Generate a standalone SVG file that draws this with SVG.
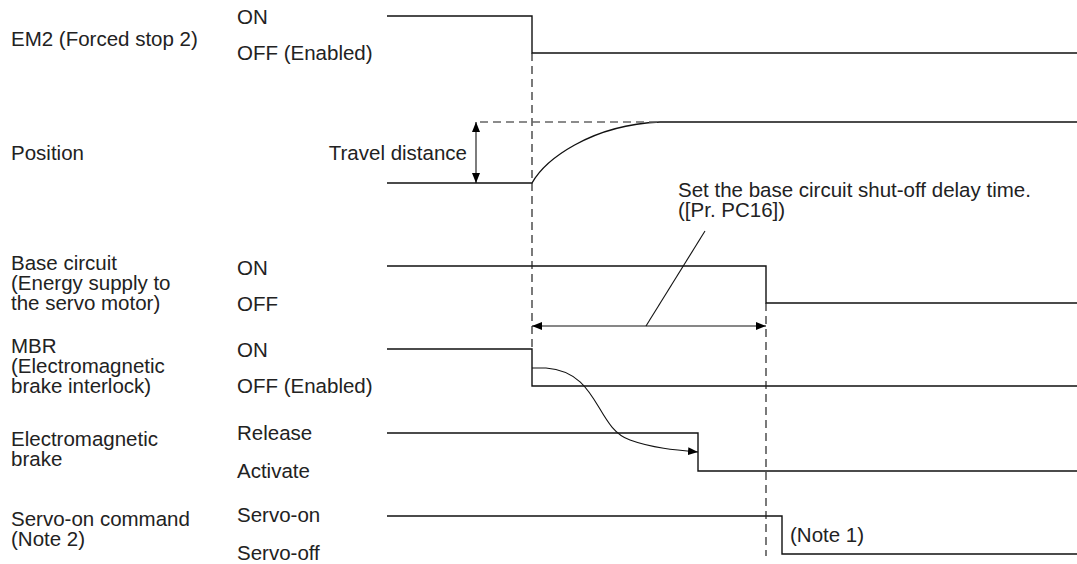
<svg xmlns="http://www.w3.org/2000/svg" width="1077" height="564" viewBox="0 0 1077 564">
<style>
text{font-family:"Liberation Sans",Arial,sans-serif;font-size:20.5px;fill:#222}
.s{fill:none;stroke:#111;stroke-width:1.4}
.d{fill:none;stroke:#222;stroke-width:1.2;stroke-dasharray:8,5}
.dg{fill:none;stroke:#666;stroke-width:1.4;stroke-dasharray:8,5}
.t{fill:none;stroke:#111;stroke-width:1.1}
</style>
<defs>
<marker id="ah" viewBox="0 0 10 8" refX="10" refY="4" markerWidth="10" markerHeight="8" markerUnits="userSpaceOnUse" orient="auto-start-reverse"><path d="M0,0L10,4L0,8z" fill="#000"/></marker>
</defs>
<g id="em2">
<text x="11" y="46">EM2 (Forced stop 2)</text>
<text x="237" y="24">ON</text>
<text x="237" y="60">OFF (Enabled)</text>
<path class="s" d="M387,16H532V53H1077"/>
</g>
<g id="position">
<text x="11" y="160">Position</text>
<text x="467" y="160" text-anchor="end">Travel distance</text>
<path class="s" d="M387,183H532C545,160 590,125 660,122H1077"/>
</g>
<g id="base">
<text x="11" y="270">Base circuit</text>
<text x="11" y="290">(Energy supply to</text>
<text x="11" y="310">the servo motor)</text>
<text x="237" y="275">ON</text>
<text x="237" y="311">OFF</text>
<path class="s" d="M387,266H766V303H1077"/>
</g>
<g id="note-delay">
<text x="678" y="197">Set the base circuit shut-off delay time.</text>
<text x="678" y="217">([Pr. PC16])</text>
</g>
<g id="mbr">
<text x="11" y="353">MBR</text>
<text x="11" y="373">(Electromagnetic</text>
<text x="11" y="393">brake interlock)</text>
<text x="237" y="357">ON</text>
<text x="237" y="393">OFF (Enabled)</text>
<path class="s" d="M387,349H532V386H1077"/>
</g>
<g id="brake">
<text x="11" y="446">Electromagnetic</text>
<text x="11" y="466">brake</text>
<text x="237" y="440">Release</text>
<text x="237" y="478">Activate</text>
<path class="s" d="M387,433H698V471H1077"/>
</g>
<g id="servo">
<text x="11" y="526">Servo-on command</text>
<text x="11" y="546">(Note 2)</text>
<text x="237" y="522">Servo-on</text>
<text x="237" y="560">Servo-off</text>
<path class="s" d="M387,516H782V554H1077"/>
<text x="790" y="542">(Note 1)</text>
</g>
<g id="connectors">
<path class="d" d="M532,53V349"/>
<path class="d" d="M766,303V556"/>
<path class="dg" d="M480,122H660"/>
<path class="t" d="M476,122V183" marker-start="url(#ah)" marker-end="url(#ah)"/>
<path class="t" d="M532,326H766" marker-start="url(#ah)" marker-end="url(#ah)"/>
<path class="t" d="M646,326L705,231"/>
<path class="t" d="M532,368H546C600,372 595,428 630,440C652,448 675,450 698,452" marker-end="url(#ah)"/>
</g>
</svg>
